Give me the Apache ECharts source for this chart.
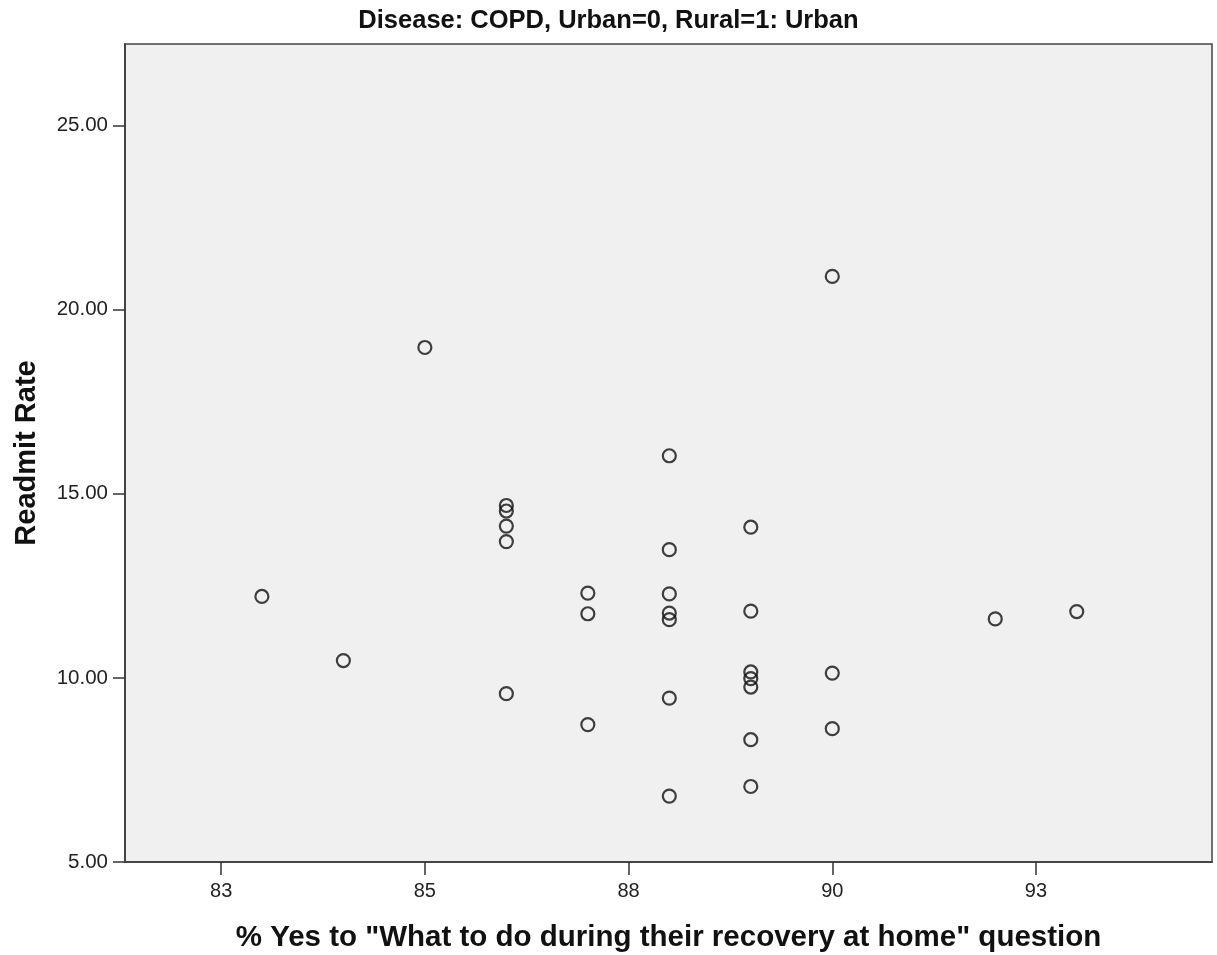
<!DOCTYPE html>
<html>
<head>
<meta charset="utf-8">
<script src="https://cdn.jsdelivr.net/npm/echarts@6/dist/echarts.min.js"></script>
<style>
html,body{margin:0;padding:0;background:#fff;overflow:hidden;}
#chart{width:1217px;height:955px;}
</style>
</head>
<body>
<div id="chart"></div>
<script>
// Data
const xValues = [83, 84, 85,
  86, 86, 86, 86, 86,
  87, 87, 87,
  88, 88, 88, 88, 88, 88, 88,
  89, 89, 89, 89, 89, 89, 89,
  90, 90, 90,
  92, 93];
const yValues = [12.21, 10.47, 18.97,
  14.68, 14.53, 14.12, 13.70, 9.57,
  12.30, 11.74, 8.73,
  16.03, 13.48, 12.28, 11.76, 11.58, 9.45, 6.79,
  14.09, 11.81, 10.16, 9.98, 9.75, 8.32, 7.05,
  20.90, 10.13, 8.62,
  11.60, 11.80];

const xTickValues = [82.5, 85, 87.5, 90, 92.5];
const xTickLabels = ['83', '85', '88', '90', '93'];
const yTickValues = [5, 10, 15, 20, 25];
const yTickLabels = ['5.00', '10.00', '15.00', '20.00', '25.00'];

const titleText = 'Disease: COPD, Urban=0, Rural=1: Urban';
const xName = '% Yes to "What to do during their recovery at home" question';
const yName = 'Readmit Rate';

const points = xValues.map((x, i) => [x, yValues[i]]);

const chart = echarts.init(document.getElementById('chart'), null, {renderer: 'canvas'});
const FONT = '"Liberation Sans", Arial, sans-serif';

chart.setOption({
  animation: false,
  backgroundColor: '#ffffff',
  title: {
    text: titleText,
    left: 'center',
    top: 3,
    textStyle: {fontFamily: FONT, fontWeight: 'bold', fontSize: 25.5, color: '#111'}
  },
  grid: {
    left: 125, top: 44, width: 1087, height: 818,
    outerBoundsMode: 'none',
    containLabel: false,
    show: true, backgroundColor: '#f0f0f0', borderColor: '#444', borderWidth: 1.5
  },
  xAxis: {
    type: 'value',
    min: 81.32, max: 94.66,
    name: xName,
    nameLocation: 'middle',
    nameGap: 61,
    nameTextStyle: {fontFamily: FONT, fontWeight: 'bold', fontSize: 29.5, color: '#111'},
    axisLine: {show: true, onZero: false, lineStyle: {color: '#444', width: 2}},
    axisTick: {show: true, length: 13, customValues: xTickValues, lineStyle: {color: '#333', width: 1.5}},
    axisLabel: {
      margin: 19,
      customValues: xTickValues,
      fontFamily: FONT, fontSize: 20, color: '#222',
      formatter: v => { const i = xTickValues.indexOf(v); return i >= 0 ? xTickLabels[i] : ''; }
    },
    splitLine: {show: false}
  },
  yAxis: {
    type: 'value',
    min: 5, max: 27.21,
    name: yName,
    nameLocation: 'middle',
    nameGap: 84,
    nameTextStyle: {fontFamily: FONT, fontWeight: 'bold', fontSize: 29, color: '#111'},
    axisLine: {show: true, onZero: false, lineStyle: {color: '#444', width: 2}},
    axisTick: {show: true, length: 12, customValues: yTickValues, lineStyle: {color: '#333', width: 1.5}},
    axisLabel: {
      margin: 17,
      customValues: yTickValues,
      fontFamily: FONT, fontSize: 20.5, color: '#222',
      formatter: v => { const i = yTickValues.indexOf(v); return i >= 0 ? yTickLabels[i] : ''; }
    },
    splitLine: {show: false}
  },
  series: [{
    type: 'scatter',
    data: points,
    symbol: 'circle',
    symbolSize: 13,
    itemStyle: {color: 'rgba(0,0,0,0)', borderColor: '#111', borderWidth: 2.2},
    emphasis: {disabled: true}
  }]
});
</script>
</body>
</html>
